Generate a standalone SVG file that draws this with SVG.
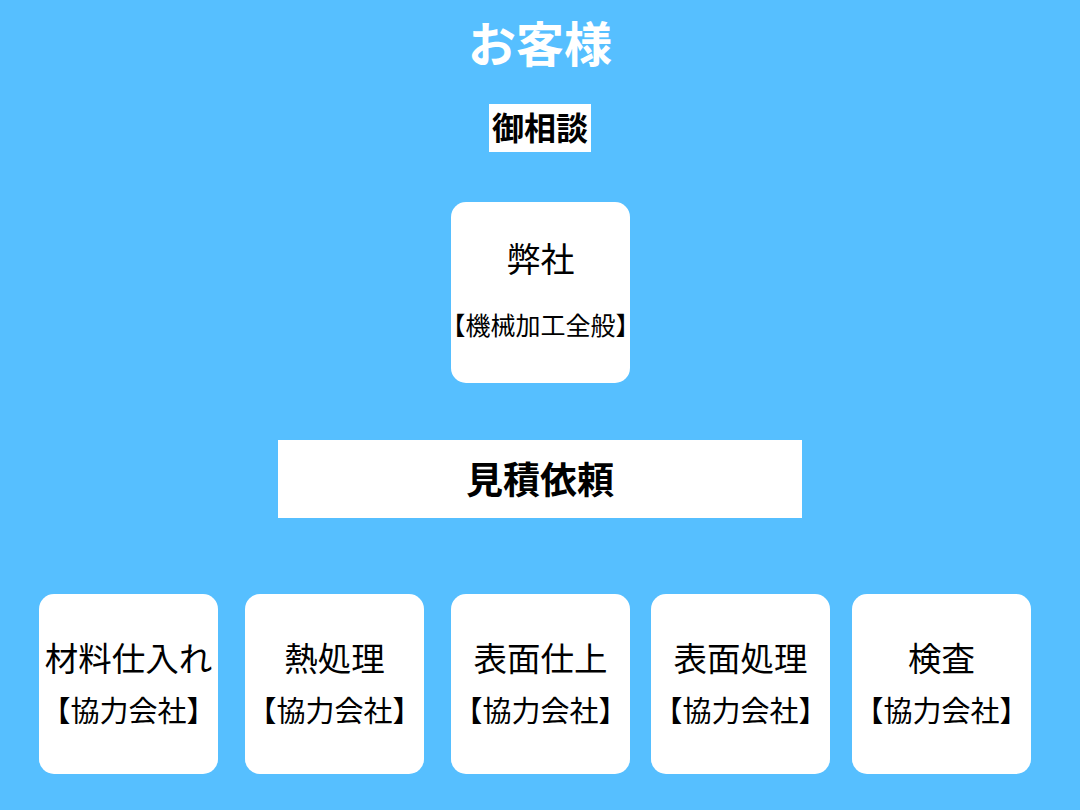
<svg xmlns="http://www.w3.org/2000/svg" width="1080" height="810" viewBox="0 0 1080 810">
<style>
.box{fill:#ffffff}
.t{font-family:"Noto Sans CJK JP","Noto Sans",sans-serif;text-anchor:middle;fill:#000000}
.main{font-size:33.5px}
.sub{font-size:29px}
.b{font-weight:bold}
</style>
<rect x="0" y="0" width="1080" height="810" fill="#56BFFF"/>
<g id="title">
<text class="t b" x="540" y="62" font-size="48" style="fill:#ffffff">お客様</text>
</g>
<g id="consult">
<rect x="489" y="104" width="102" height="48" fill="#ffffff"/>
<text class="t b" x="540" y="140" font-size="32">御相談</text>
</g>
<g id="company">
<rect class="box" x="451" y="202" width="179" height="181" rx="15"/>
<text class="t" x="540.5" y="272" font-size="34">弊社</text>
<text class="t" x="540.5" y="335" font-size="25">【機械加工全般】</text>
</g>
<g id="quote">
<rect x="278" y="440" width="524" height="78" fill="#ffffff"/>
<text class="t b" x="540" y="494" font-size="37">見積依頼</text>
</g>
<g id="connectors"></g>
<g id="n1">
<rect class="box" x="39" y="594" width="179" height="180" rx="15"/>
<text class="t main" x="128.5" y="671">材料仕入れ</text>
<text class="t sub" x="128.5" y="722">【協力会社】</text>
</g>
<g id="n2">
<rect class="box" x="245" y="594" width="179" height="180" rx="15"/>
<text class="t main" x="334.5" y="671">熱処理</text>
<text class="t sub" x="334.5" y="722">【協力会社】</text>
</g>
<g id="n3">
<rect class="box" x="451" y="594" width="179" height="180" rx="15"/>
<text class="t main" x="540.5" y="671">表面仕上</text>
<text class="t sub" x="540.5" y="722">【協力会社】</text>
</g>
<g id="n4">
<rect class="box" x="651" y="594" width="179" height="180" rx="15"/>
<text class="t main" x="740.5" y="671">表面処理</text>
<text class="t sub" x="740.5" y="722">【協力会社】</text>
</g>
<g id="n5">
<rect class="box" x="852" y="594" width="179" height="180" rx="15"/>
<text class="t main" x="941.5" y="671">検査</text>
<text class="t sub" x="941.5" y="722">【協力会社】</text>
</g>
</svg>
